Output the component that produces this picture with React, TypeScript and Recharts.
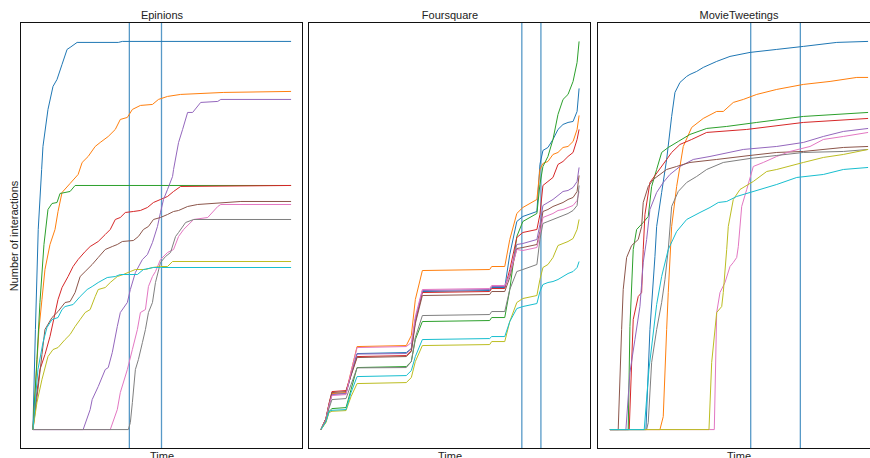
import { LineChart, Line, XAxis, YAxis, ReferenceLine } from 'recharts'

// tab10
const COLORS = ['#1f77b4', '#ff7f0e', '#2ca02c', '#d62728', '#9467bd', '#8c564b', '#e377c2', '#7f7f7f', '#bcbd22', '#17becf']

type Pt = [number, number]

// ---- Epinions: [time, interactions] per user ----
const epBlue: Pt[] = [[0, 0], [2.5, 100], [5.3, 200], [8.7, 260], [10, 283], [15, 320], [20, 343], [24, 350], [29, 365], [34, 380], [37, 382], [44, 387], [85, 387], [89, 388], [257, 388]]
const epOrange: Pt[] = [[0, 0], [3, 50], [6, 100], [9, 130], [12, 160], [17, 185], [22, 200], [25, 218], [29, 237], [37, 246], [45, 255], [49, 267], [55, 273], [62, 283], [67, 287], [75, 293], [82, 300], [87, 310], [94, 312], [99, 320], [107, 324], [119, 325], [125, 330], [134, 333], [147, 335], [190, 337], [257, 338]]
const epGreen: Pt[] = [[0, 0], [4, 70], [7, 127], [11, 185], [15, 220], [19, 226], [24, 227], [27, 236], [37, 238], [42, 244], [257, 244]]
const epRed: Pt[] = [[0, 0], [3, 30], [7, 60], [12, 75], [17, 93], [25, 130], [29, 142], [35, 153], [40, 163], [45, 170], [52, 178], [57, 183], [65, 188], [72, 195], [77, 200], [82, 210], [87, 212], [92, 217], [100, 218], [107, 219], [114, 222], [120, 227], [127, 230], [134, 233], [140, 238], [147, 243], [257, 244]]
const epPurple: Pt[] = [[0, 0], [50, 0], [57, 20], [59, 30], [65, 43], [72, 60], [75, 62], [79, 77], [84, 103], [87, 117], [94, 127], [97, 140], [102, 157], [109, 170], [114, 175], [119, 187], [124, 203], [127, 217], [130, 230], [134, 240], [139, 253], [140, 260], [145, 287], [149, 300], [154, 317], [159, 317], [167, 327], [184, 328], [187, 330], [257, 330]]
const epBrown: Pt[] = [[0, 0], [5, 40], [9, 75], [12, 100], [19, 112], [25, 118], [32, 127], [37, 128], [42, 137], [47, 153], [52, 158], [59, 165], [65, 172], [72, 180], [79, 183], [84, 185], [89, 188], [100, 189], [105, 193], [110, 200], [115, 203], [120, 210], [127, 212], [134, 215], [140, 218], [145, 219], [154, 223], [164, 225], [207, 228], [257, 228]]
const epPink: Pt[] = [[0, 0], [77, 0], [84, 20], [87, 37], [94, 60], [99, 80], [104, 100], [107, 117], [112, 120], [115, 143], [119, 153], [122, 158], [127, 170], [134, 177], [140, 180], [145, 193], [150, 200], [160, 210], [174, 212], [184, 223], [187, 225], [257, 225]]
const epGray: Pt[] = [[0, 0], [95, 0], [97, 7], [99, 27], [102, 60], [105, 70], [109, 87], [112, 100], [115, 117], [119, 127], [122, 147], [127, 167], [132, 173], [137, 177], [142, 193], [145, 197], [152, 207], [160, 210], [257, 210]]
const epOlive: Pt[] = [[0, 0], [4, 27], [9, 50], [15, 73], [20, 80], [25, 82], [32, 90], [37, 95], [42, 103], [47, 110], [52, 117], [57, 120], [62, 133], [65, 140], [72, 142], [77, 147], [84, 153], [90, 155], [97, 158], [102, 160], [112, 160], [119, 162], [127, 163], [134, 163], [139, 168], [257, 168]]
const epCyan: Pt[] = [[0, 0], [5, 60], [10, 87], [14, 102], [19, 110], [25, 112], [29, 120], [32, 123], [40, 125], [47, 133], [54, 140], [59, 143], [65, 147], [74, 152], [82, 153], [87, 155], [104, 155], [110, 160], [120, 162], [127, 162], [257, 162]]
const epSplits = [96, 128]

// ---- Foursquare: shared time grid, interactions per user ----
const fsTime = [0, 5, 8, 11, 25, 30, 36, 85, 90, 94, 101, 168, 170, 183, 188, 195, 201, 215, 218, 221, 226, 231, 236, 241, 246, 251, 255, 257]
const fsBlue = [0, 10, 24, 35.5, 36, 55, 76, 77, 81, 110, 138, 139, 142, 142, 175, 208, 213, 218, 265, 279, 282, 290, 300, 305, 307, 308, 318, 341]
const fsOrange = [0, 11, 25, 36, 37, 58, 83, 84, 94, 130, 159, 160, 163, 163, 190, 216, 222, 230, 260, 266, 268, 275, 277, 282, 283, 288, 300, 314]
const fsGreen = [0, 8, 18, 21, 22, 40, 62, 63, 68, 90, 108, 109, 112, 112, 140, 193, 208, 216, 245, 263, 273, 290, 315, 330, 335, 348, 367, 388]
const fsRed = [0, 11, 26, 38, 39, 55, 73, 74, 79, 108, 137, 138, 141, 141, 160, 192, 197, 200, 215, 244, 248, 252, 265, 268, 273, 277, 290, 300]
const fsPurple = [0, 10, 24, 35, 36, 55, 75.5, 76, 81, 110, 139, 140, 143, 143, 155, 185, 186, 190, 205, 224, 227, 230, 234, 238, 239, 242, 248, 262]
const fsBrown = [0, 11, 25, 37, 38, 54, 72, 73, 78, 106, 134, 135, 138, 138, 152, 181, 182, 185, 198, 218, 220, 223, 225, 227, 230, 232, 238, 254]
const fsPink = [0, 10, 24, 34, 35, 58, 82, 83, 87, 113, 140, 141, 144, 144, 155, 180, 179, 182, 195, 212, 214, 216, 219, 220, 222, 224, 229, 238]
const fsGray = [0, 9, 21, 30, 31, 45, 61.7, 62, 68, 92, 114, 115, 118, 118, 140, 158, 160, 165, 190, 206, 208, 210, 212, 214, 216, 219, 224, 244]
const fsOlive = [0, 7, 17, 18.3, 19, 33, 46, 47, 52, 68, 84, 85, 88, 88, 108, 127, 131, 134, 150, 162, 165, 172, 184, 186, 188, 191, 200, 210]
const fsCyan = [0, 8, 18, 19.3, 20, 37, 53, 54, 59, 73, 90, 91, 93, 93, 108, 121, 123, 126, 138, 145, 147, 148, 150, 153, 156, 158, 162, 168]
const fsSplits = [200, 219]

// ---- MovieTweetings: [time, interactions] per user ----
const mtBlue: Pt[] = [[0, 0], [36, 0], [40, 100], [45, 173], [46.7, 203], [51.7, 237], [56.7, 270], [61.7, 313], [65, 337], [70, 347], [76.7, 353], [80, 355], [86.7, 358], [93.3, 362], [106.7, 368], [120, 373], [140, 377], [166.7, 380], [193.3, 383], [226.7, 387], [258, 388]]
const mtOrange: Pt[] = [[0, 0], [50, 0], [53.3, 13], [56.7, 100], [58.3, 137], [61.7, 203], [66.7, 243], [73.3, 283], [81.7, 302], [93.3, 311], [106.7, 318], [113.3, 318], [123.3, 327], [133.3, 330], [146.7, 335], [166.7, 340], [193.3, 345], [220, 348], [246.7, 352], [258, 352]]
const mtGreen: Pt[] = [[0, 0], [18.3, 0], [20, 103], [23.3, 180], [26.7, 200], [33.3, 207], [38.3, 213], [41.7, 243], [46.7, 260], [51.7, 277], [58.3, 282], [68.3, 288], [80, 295], [96.7, 301], [116.7, 303], [146.7, 307], [193.3, 313], [258, 317]]
const mtRed: Pt[] = [[0, 0], [19.3, 0], [23.3, 110], [28.3, 133], [31.7, 137], [33.3, 180], [35, 215], [40, 247], [56.7, 270], [61.7, 277], [70, 285], [81.7, 290], [96.7, 297], [136.7, 300], [193.3, 307], [258, 311]]
const mtPurple: Pt[] = [[0, 0], [16, 0], [20, 57], [25, 90], [30, 123], [33.3, 167], [36.7, 190], [40, 220], [46.7, 237], [53.3, 247], [60, 255], [70, 263], [83.3, 270], [100, 273], [133.3, 280], [166.7, 283], [193.3, 287], [213.3, 293], [233.3, 298], [258, 301]]
const mtBrown: Pt[] = [[0, 0], [8.3, 0], [11.7, 100], [13.3, 140], [16.7, 172], [21.7, 184], [28.3, 190], [31.7, 203], [33.3, 227], [38.3, 243], [43.3, 250], [50, 255], [56.7, 260], [66.7, 263], [80, 267], [106.7, 270], [140, 274], [166.7, 277], [193.3, 278], [233.3, 282], [258, 283]]
const mtPink: Pt[] = [[0, 0], [104.3, 0], [106.7, 117], [110, 137], [115, 147], [120, 163], [123.3, 167], [126.7, 172], [128.3, 183], [131.7, 223], [136.7, 240], [143.3, 263], [153.3, 267], [166.7, 273], [180, 278], [200, 283], [213.3, 290], [233.3, 293], [258, 297]]
const mtGray: Pt[] = [[0, 0], [36.7, 0], [38.3, 7], [41.7, 67], [46.7, 100], [51.7, 127], [55, 150], [58.3, 180], [61.7, 223], [68.3, 238], [76.7, 247], [86.7, 253], [96.7, 260], [113.3, 267], [140, 271], [166.7, 274], [193.3, 277], [233.3, 278], [258, 280]]
const mtOlive: Pt[] = [[0, 0], [99, 0], [101.7, 67], [106.7, 117], [111.7, 123], [113.3, 137], [116.7, 180], [118.3, 203], [123.3, 230], [130, 240], [143.3, 248], [156.7, 258], [166.7, 260], [193.3, 267], [213.3, 272], [233.3, 275], [258, 280]]
const mtCyan: Pt[] = [[0, 0], [34.3, 0], [39, 60], [46.7, 125], [51.7, 153], [58.3, 180], [66.7, 198], [76.7, 210], [90, 217], [100, 222], [108.3, 227], [116.7, 228], [126.7, 233], [140, 237], [166.7, 245], [186.7, 252], [213.3, 255], [233.3, 260], [258, 262]]
const mtSplits = [140.7, 190.3]

const toPts = (p: Pt[]) => p.map(([t, v]) => ({ t, v }))
const gridPts = (vs: number[]) => vs.map((v, i) => ({ t: fsTime[i], v }))

const panels = [
  {
    title: 'Epinions',
    left: 20,
    series: [epBlue, epOrange, epGreen, epRed, epPurple, epBrown, epPink, epGray, epOlive, epCyan].map(toPts),
    splits: epSplits,
  },
  {
    title: 'Foursquare',
    left: 308,
    series: [fsBlue, fsOrange, fsGreen, fsRed, fsPurple, fsBrown, fsPink, fsGray, fsOlive, fsCyan].map(gridPts),
    splits: fsSplits,
  },
  {
    title: 'MovieTweetings',
    left: 597,
    series: [mtBlue, mtOrange, mtGreen, mtRed, mtPurple, mtBrown, mtPink, mtGray, mtOlive, mtCyan].map(toPts),
    splits: mtSplits,
  },
]

const W = 284
const H = 427
const TOP = 22
const FONT = '"Liberation Sans", Arial, sans-serif'

function pad(vals: number[]): [number, number] {
  const lo = Math.min(...vals)
  const hi = Math.max(...vals)
  const m = (hi - lo) * 0.05
  return [lo - m, hi + m]
}

function Panel({ title, left, series, splits }: (typeof panels)[number]) {
  const all = series.flat()
  const xDom = pad(all.map((d) => d.t))
  const yDom = pad(all.map((d) => d.v))
  return (
    <div style={{ position: 'absolute', left, top: 0, width: W, height: 458 }}>
      <div style={{ position: 'absolute', top: 9, width: W, textAlign: 'center', fontSize: 11, color: '#222' }}>{title}</div>
      <div style={{ position: 'absolute', top: TOP }}>
        <LineChart width={W} height={H} margin={{ top: 0, right: 0, bottom: 0, left: 0 }}>
          <XAxis type="number" dataKey="t" domain={xDom} hide allowDataOverflow />
          <YAxis type="number" dataKey="v" domain={yDom} hide allowDataOverflow />
          {splits.map((s) => (
            <ReferenceLine key={s} x={s} stroke="#1f77b4" strokeOpacity={0.75} strokeWidth={1.3} />
          ))}
          {series.map((d, i) => (
            <Line
              key={i}
              data={d}
              dataKey="v"
              type="linear"
              stroke={COLORS[i]}
              strokeWidth={1}
              dot={false}
              isAnimationActive={false}
            />
          ))}
        </LineChart>
      </div>
      <div
        style={{
          position: 'absolute',
          top: TOP,
          left: 0,
          width: W - 1,
          height: H,
          boxSizing: 'border-box',
          border: '1px solid #111',
          pointerEvents: 'none',
        }}
      />
      <div style={{ position: 'absolute', top: 450, width: W, textAlign: 'center', fontSize: 11, color: '#222' }}>Time</div>
    </div>
  )
}

export default function App() {
  return (
    <div
      style={{
        position: 'absolute',
        left: 0,
        top: 0,
        width: 870,
        height: 458,
        overflow: 'hidden',
        background: '#fff',
        fontFamily: FONT,
      }}
    >
      {panels.map((p) => (
        <Panel key={p.title} {...p} />
      ))}
      <div
        style={{
          position: 'absolute',
          left: 14,
          top: 236,
          transform: 'translate(-50%, -50%) rotate(-90deg)',
          whiteSpace: 'nowrap',
          fontSize: 11,
          color: '#222',
        }}
      >
        Number of interactions
      </div>
    </div>
  )
}
